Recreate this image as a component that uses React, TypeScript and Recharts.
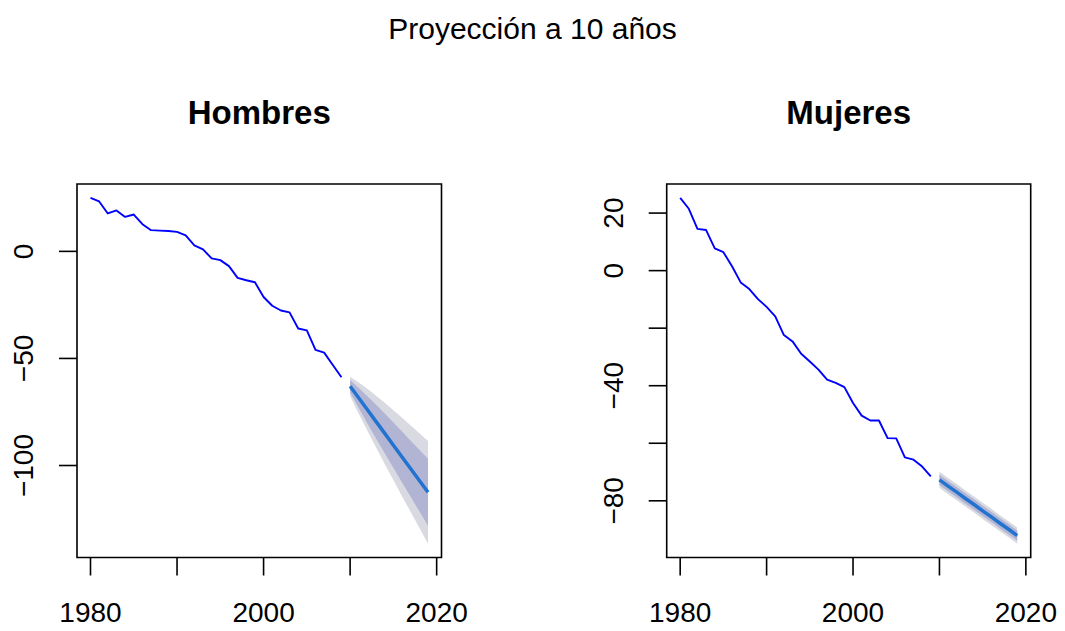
import React from 'react';
import { ComposedChart, Line, Area, XAxis, YAxis, ReferenceArea } from 'recharts';

const histYears = [
  1980, 1981, 1982, 1983, 1984, 1985, 1986, 1987, 1988, 1989,
  1990, 1991, 1992, 1993, 1994, 1995, 1996, 1997, 1998, 1999,
  2000, 2001, 2002, 2003, 2004, 2005, 2006, 2007, 2008, 2009,
];
const forecastYears = [2010, 2011, 2012, 2013, 2014, 2015, 2016, 2017, 2018, 2019];
const xTicks = [1980, 1990, 2000, 2010, 2020];
const xLabels = [1980, 2000, 2020];

// Hombres
const hombresHist = [
  25.0, 23.3, 17.7, 19.1, 16.1, 17.2, 12.7, 9.9, 9.7, 9.5,
  9.1, 7.5, 2.8, 0.9, -3.3, -4.1, -6.9, -12.4, -13.5, -14.4,
  -21.3, -25.4, -27.6, -28.5, -36.0, -36.9, -46.0, -47.3, -53.1, -58.8,
];
const hombresMean = [-63.0, -68.5, -74.0, -79.5, -85.0, -90.5, -96.0, -101.5, -107.0, -112.5];
const hombresHi80 = [-60.1, -63.8, -67.6, -71.6, -75.7, -79.9, -84.1, -88.4, -92.6, -96.9];
const hombresLo80 = [-65.9, -73.2, -80.4, -87.4, -94.3, -101.1, -107.9, -114.6, -121.4, -128.1];
const hombresHi95 = [-58.5, -61.2, -64.2, -67.4, -70.7, -74.2, -77.7, -81.3, -84.9, -88.5];
const hombresLo95 = [-67.5, -75.8, -83.8, -91.6, -99.3, -106.8, -114.3, -121.7, -129.1, -136.5];
const hombresYTicks = [0, -50, -100];
const hombresYLabels = [0, -50, -100];

// Mujeres
const mujeresHist = [
  25.3, 21.5, 14.5, 14.1, 7.7, 6.4, 1.5, -4.1, -6.4, -9.9,
  -12.6, -15.9, -22.4, -24.6, -28.9, -31.6, -34.4, -37.9, -39.0, -40.5,
  -46.0, -50.4, -52.1, -52.1, -58.2, -58.3, -64.9, -65.7, -68.1, -71.5,
];
const mujeresMean = [-72.7, -74.9, -77.0, -79.2, -81.3, -83.5, -85.6, -87.8, -89.9, -92.1];
const mujeresHi80 = [-70.9, -73.1, -75.2, -77.4, -79.5, -81.7, -83.8, -86.0, -88.1, -90.3];
const mujeresLo80 = [-74.5, -76.7, -78.8, -81.0, -83.1, -85.3, -87.4, -89.6, -91.7, -93.9];
const mujeresHi95 = [-69.9, -72.1, -74.2, -76.4, -78.5, -80.7, -82.8, -85.0, -87.1, -89.3];
const mujeresLo95 = [-75.5, -77.7, -79.8, -82.0, -84.1, -86.3, -88.4, -90.6, -92.7, -94.9];
const mujeresYTicks = [20, 0, -20, -40, -60, -80];
const mujeresYLabels = [20, 0, -40, -80];

const FONT = '"Liberation Sans", Arial, Helvetica, sans-serif';
const HIST_COLOR = '#0000FF';
const MEAN_COLOR = '#2272D0';
const BAND95 = '#D8D9E1';
const BAND80 = '#B1B5D3';

const fmt = (v: number) => (v < 0 ? `\u2212${Math.abs(v)}` : String(v));

const XTick = (props: any) => {
  const { x, y, payload } = props;
  if (!xLabels.includes(payload.value)) return null;
  return (
    <text x={x} y={y} dy="0.71em" textAnchor="middle" fill="#000" fontSize={28} fontFamily={FONT}>
      {payload.value}
    </text>
  );
};

const makeYTick = (labels: number[]) => (props: any) => {
  const { x, y, payload } = props;
  if (!labels.includes(payload.value)) return null;
  return (
    <text
      x={x}
      y={y}
      transform={`rotate(-90 ${x} ${y})`}
      textAnchor="middle"
      fill="#000"
      fontSize={28}
      fontFamily={FONT}
    >
      {fmt(payload.value)}
    </text>
  );
};

interface PanelProps {
  left: number;
  width: number;
  axisWidth: number;
  rightMargin: number;
  hist: number[];
  mean: number[];
  lo80: number[];
  hi80: number[];
  lo95: number[];
  hi95: number[];
  yTicks: number[];
  yLabels: number[];
}

const Panel: React.FC<PanelProps> = ({
  left, width, axisWidth, rightMargin, hist, mean, lo80, hi80, lo95, hi95, yTicks, yLabels,
}) => {
  const histRows = histYears.map((year, i) => ({ year, value: hist[i] }));
  const fcRows = forecastYears.map((year, i) => ({
    year,
    mean: mean[i],
    band80: [lo80[i], hi80[i]],
    band95: [lo95[i], hi95[i]],
  }));
  const all = [...hist, ...lo95, ...hi95];
  const yMin = Math.min(...all);
  const yMax = Math.max(...all);
  const yPad = (yMax - yMin) * 0.04;
  const yDomain: [number, number] = [yMin - yPad, yMax + yPad];
  const xPad = (2019 - 1980) * 0.04;
  const xDomain: [number, number] = [1980 - xPad, 2019 + xPad];

  return (
    <div style={{ position: 'absolute', left, top: 0 }}>
      <ComposedChart width={width} height={631} margin={{ top: 184, right: rightMargin, left: 0, bottom: 0 }}>
        <XAxis
          type="number"
          dataKey="year"
          domain={xDomain}
          ticks={xTicks}
          interval={0}
          allowDataOverflow
          height={73.5}
          axisLine={false}
          tickLine={{ stroke: '#000', strokeWidth: 1.6 }}
          tickSize={18}
          tickMargin={26.5}
          tick={<XTick />}
        />
        <YAxis
          type="number"
          domain={yDomain}
          ticks={yTicks}
          interval={0}
          allowDataOverflow
          width={axisWidth}
          axisLine={false}
          tickLine={{ stroke: '#000', strokeWidth: 1.6 }}
          tickSize={18}
          tickMargin={26}
          tick={makeYTick(yLabels)}
        />
        <Area
          data={fcRows}
          dataKey="band95"
          type="linear"
          stroke="none"
          fill={BAND95}
          fillOpacity={1}
          isAnimationActive={false}
        />
        <Area
          data={fcRows}
          dataKey="band80"
          type="linear"
          stroke="none"
          fill={BAND80}
          fillOpacity={1}
          isAnimationActive={false}
        />
        <Line
          data={fcRows}
          dataKey="mean"
          type="linear"
          stroke={MEAN_COLOR}
          strokeWidth={3.5}
          dot={false}
          isAnimationActive={false}
        />
        <Line
          data={histRows}
          dataKey="value"
          type="linear"
          stroke={HIST_COLOR}
          strokeWidth={1.9}
          strokeLinejoin="round"
          dot={false}
          isAnimationActive={false}
        />
        <ReferenceArea
          x1={xDomain[0]}
          x2={xDomain[1]}
          y1={yDomain[0]}
          y2={yDomain[1]}
          fill="none"
          stroke="#000"
          strokeWidth={1.6}
          ifOverflow="visible"
        />
      </ComposedChart>
    </div>
  );
};

export default function App() {
  return (
    <div style={{ position: 'absolute', left: 0, top: 0, width: 1065, height: 631, background: '#fff' }}>
      <svg width={1065} height={631} style={{ position: 'absolute', left: 0, top: 0 }}>
        <text x={532.5} y={39} textAnchor="middle" fontSize={30} fontFamily={FONT} fill="#000">
          Proyección a 10 años
        </text>
        <text x={259.3} y={124} textAnchor="middle" fontSize={33} fontWeight="bold" fontFamily={FONT} fill="#000">
          Hombres
        </text>
        <text x={848.7} y={124} textAnchor="middle" fontSize={33} fontWeight="bold" fontFamily={FONT} fill="#000">
          Mujeres
        </text>
      </svg>
      <Panel
        left={0}
        width={532}
        axisWidth={77}
        rightMargin={90.5}
        hist={hombresHist}
        mean={hombresMean}
        lo80={hombresLo80}
        hi80={hombresHi80}
        lo95={hombresLo95}
        hi95={hombresHi95}
        yTicks={hombresYTicks}
        yLabels={hombresYLabels}
      />
      <Panel
        left={532}
        width={533}
        axisWidth={134.7}
        rightMargin={34.3}
        hist={mujeresHist}
        mean={mujeresMean}
        lo80={mujeresLo80}
        hi80={mujeresHi80}
        lo95={mujeresLo95}
        hi95={mujeresHi95}
        yTicks={mujeresYTicks}
        yLabels={mujeresYLabels}
      />
    </div>
  );
}
